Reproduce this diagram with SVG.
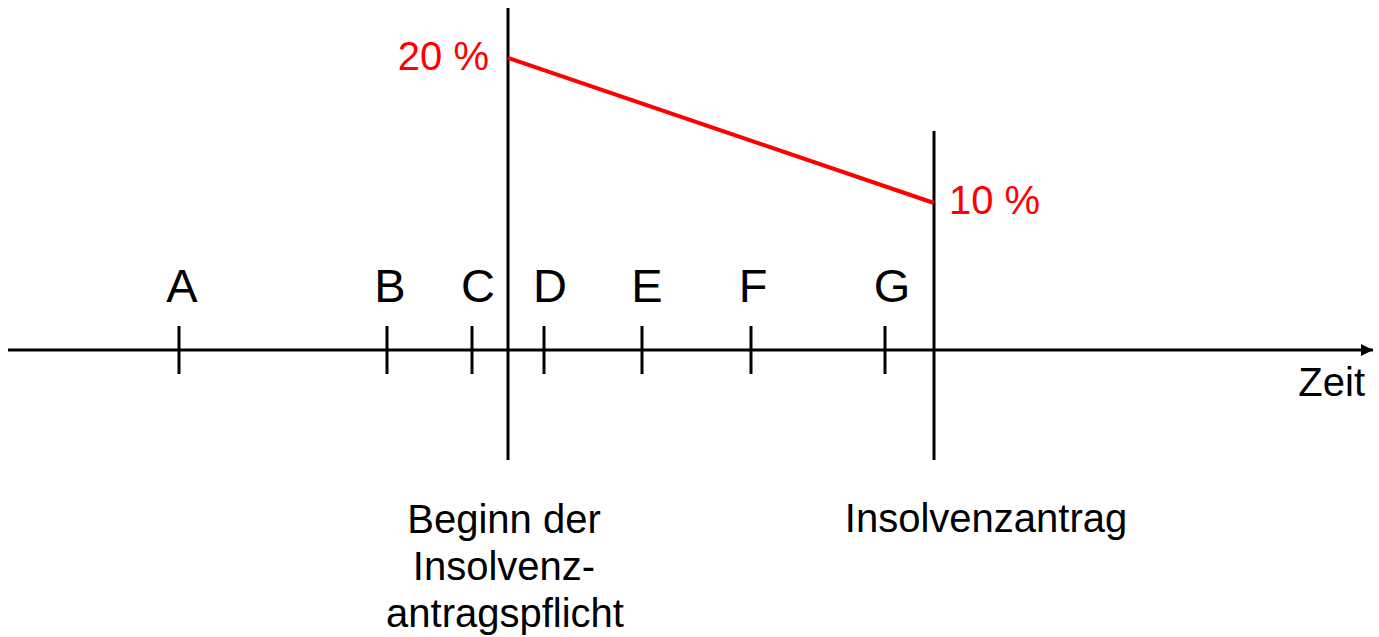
<svg xmlns="http://www.w3.org/2000/svg" width="1379" height="637" viewBox="0 0 1379 637">
  <defs>
    <style>
      .ln { stroke: #000; stroke-width: 3; fill: none; }
      .tk { stroke: #000; stroke-width: 3; }
      .red { stroke: #ff0000; stroke-width: 4; fill: none; }
      .lbl { font-family: "Liberation Sans", Arial, sans-serif; font-size: 47px; fill: #000; text-anchor: middle; }
      .txt { font-family: "Liberation Sans", Arial, sans-serif; font-size: 40px; fill: #000; text-anchor: middle; }
      .pct { font-family: "Liberation Sans", Arial, sans-serif; font-size: 40px; fill: #ff0000; }
    </style>
    <marker id="arr" markerWidth="12" markerHeight="12" refX="12" refY="6" orient="auto" markerUnits="userSpaceOnUse">
      <path d="M0,0 L12,6 L0,12 Z" fill="#000"/>
    </marker>
  </defs>
  <rect width="1379" height="637" fill="#fff"/>
  <g id="connectors">
    <line id="axis" class="ln" x1="8" y1="350" x2="1373" y2="350" marker-end="url(#arr)"/>
    <line class="ln" x1="508" y1="8" x2="508" y2="460"/>
    <line class="ln" x1="934" y1="131" x2="934" y2="460"/>
    <line class="red" x1="508" y1="58" x2="934" y2="203"/>
  </g>
  <g id="ticks">
    <line class="tk" x1="179" y1="326" x2="179" y2="374"/>
    <line class="tk" x1="387" y1="326" x2="387" y2="374"/>
    <line class="tk" x1="472" y1="326" x2="472" y2="374"/>
    <line class="tk" x1="544" y1="326" x2="544" y2="374"/>
    <line class="tk" x1="642" y1="326" x2="642" y2="374"/>
    <line class="tk" x1="751" y1="326" x2="751" y2="374"/>
    <line class="tk" x1="885" y1="326" x2="885" y2="374"/>
  </g>
  <g id="node-A"><text class="lbl" x="182" y="302">A</text></g>
  <g id="node-B"><text class="lbl" x="390" y="302">B</text></g>
  <g id="node-C"><text class="lbl" x="478" y="302">C</text></g>
  <g id="node-D"><text class="lbl" x="550" y="302">D</text></g>
  <g id="node-E"><text class="lbl" x="647" y="302">E</text></g>
  <g id="node-F"><text class="lbl" x="753" y="302">F</text></g>
  <g id="node-G"><text class="lbl" x="892" y="302">G</text></g>
  <g id="label-zeit"><text class="txt" x="1365" y="396" style="text-anchor:end">Zeit</text></g>
  <g id="label-20"><text class="pct" x="489" y="70" text-anchor="end">20 %</text></g>
  <g id="label-10"><text class="pct" x="949" y="214">10 %</text></g>
  <g id="label-beginn">
    <text class="txt" x="504" y="533">Beginn der</text>
    <text class="txt" x="504" y="580">Insolvenz-</text>
    <text class="txt" x="505" y="627">antragspflicht</text>
  </g>
  <g id="label-antrag"><text class="txt" x="986" y="532">Insolvenzantrag</text></g>
</svg>
